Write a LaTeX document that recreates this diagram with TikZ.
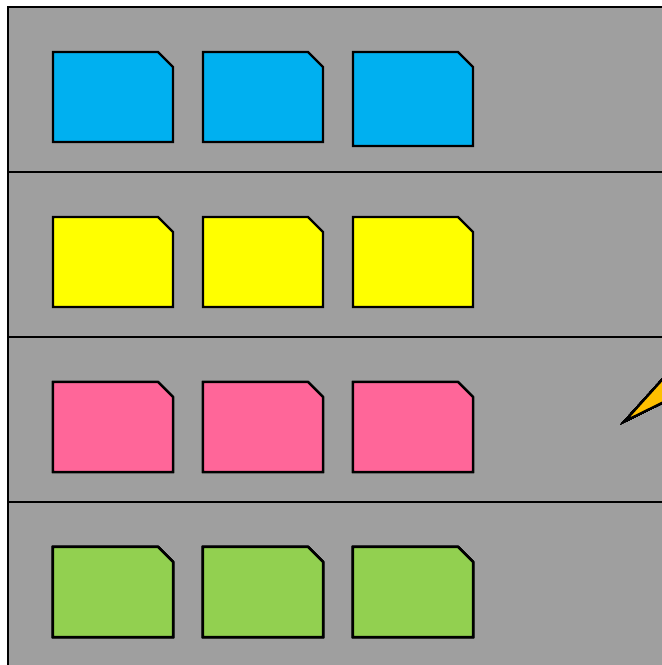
\documentclass[tikz,border=0pt]{standalone}
\usepackage{tikz}
\usetikzlibrary{calc}
\definecolor{panelgrey}{HTML}{9F9F9F}
\definecolor{noteblue}{HTML}{00B0F0}
\definecolor{noteyellow}{HTML}{FFFF00}
\definecolor{notepink}{HTML}{FF6699}
\definecolor{notegreen}{HTML}{92D050}
\definecolor{boltorange}{HTML}{FFC000}
\tikzset{
  panel/.style={draw=black, fill=panelgrey, line width=2.4pt},
  divider/.style={draw=black, line width=2.4pt},
  note/.style={draw=black, line width=2.4pt, line join=miter},
  bolt/.style={draw=black, fill=boltorange, line width=2.2pt, line join=miter}
}
% one sticky note: lower left corner (#1,#2), width #3, height #4
\newcommand{\stickynote}[5]{%
  \draw[note, fill=#5] (#1,#2) -- ++(0,-#4) -- ++(#3-15,0) -- ++(15,15) -- ++(0,#4-15) -- cycle;}
\begin{document}
\begin{tikzpicture}[x=1pt, y=-1pt]
\useasboundingbox (0,0) rectangle (662,665);
\clip (0,0) rectangle (662,665);
% board
\draw[panel] (8,7) rectangle (720,720);
\foreach \yy in {172,337,502}
  \draw[divider] (8,\yy) -- (720,\yy);
% row 1
\stickynote{53}{142}{120}{90}{noteblue}
\stickynote{203}{142}{120}{90}{noteblue}
\stickynote{353}{146}{120}{94}{noteblue}
% row 2
\foreach \xx in {53,203,353}
  \stickynote{\xx}{307}{120}{90}{noteyellow}
% row 3
\foreach \xx in {53,203,353}
  \stickynote{\xx}{472}{120}{90}{notepink}
% row 4
\foreach \xx in {53,203,353}
  \stickynote{\xx}{637}{120}{90}{notegreen}
% bolt
\draw[bolt] (625,421) -- (680,360) -- (680,394) -- cycle;
\end{tikzpicture}
\end{document}
